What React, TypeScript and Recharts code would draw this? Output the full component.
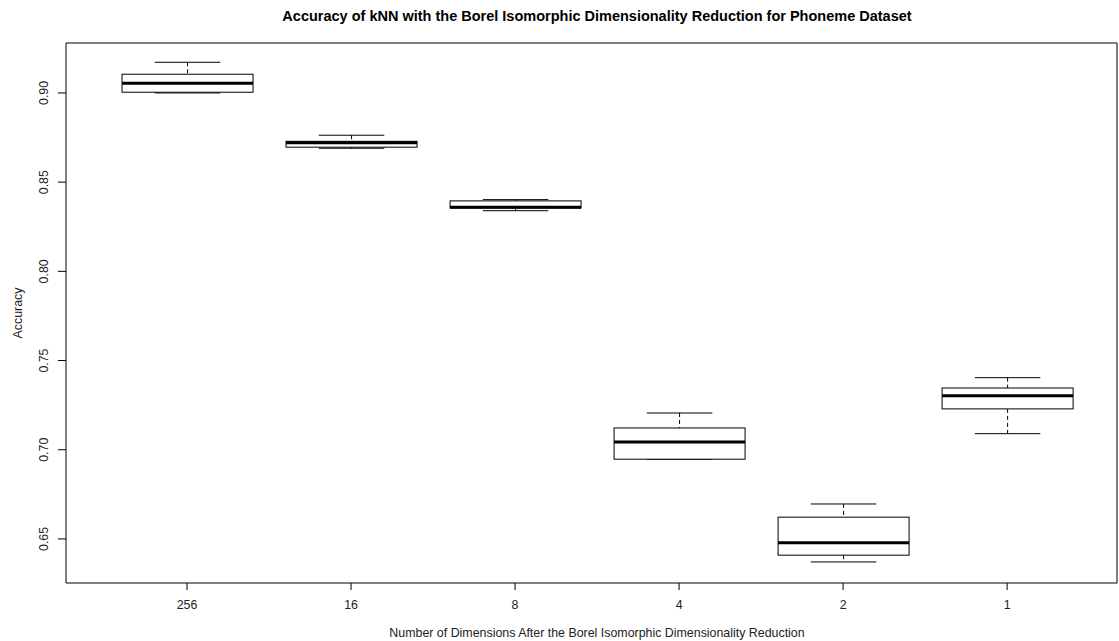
import React from 'react';
import {
    ComposedChart,
    Bar,
    XAxis,
    YAxis,
    ReferenceArea,
} from 'recharts';

// boxplot stats (accuracy per reduced dimension)
const categories = ['256', '16', '8', '4', '2', '1'];
const positions = [1, 2, 3, 4, 5, 6];
const whiskerLow = [0.9, 0.869, 0.834, 0.6947, 0.6371, 0.709];
const q1 = [0.9004, 0.8696, 0.8355, 0.6947, 0.6409, 0.7229];
const median = [0.9054, 0.8721, 0.8359, 0.7044, 0.6478, 0.7302];
const q3 = [0.9105, 0.8729, 0.8395, 0.7122, 0.6622, 0.7346];
const whiskerHigh = [0.9172, 0.8763, 0.8402, 0.7206, 0.6696, 0.7404];
const yTicks = [0.65, 0.7, 0.75, 0.8, 0.85, 0.9];

const data = categories.map((name, i) => ({
    pos: positions[i],
    name,
    range: [whiskerLow[i], whiskerHigh[i]],
    lo: whiskerLow[i],
    q1: q1[i],
    med: median[i],
    q3: q3[i],
    hi: whiskerHigh[i],
}));

const FONT = 'Liberation Sans, Arial, sans-serif';
const X_DOMAIN: [number, number] = [0.262, 6.67];
const Y_DOMAIN: [number, number] = [0.6253, 0.928];

function BoxShape(props: any) {
    const { x, y, width, height, payload } = props;
    const h = Math.abs(height);
    const top = height < 0 ? y + height : y;
    const k = h / (payload.hi - payload.lo);
    const yOf = (v: number) => top + (payload.hi - v) * k;
    const cx = x + width / 2;
    const capHalf = width / 4;
    const yq3 = yOf(payload.q3);
    const yq1 = yOf(payload.q1);
    const yHi = yOf(payload.hi);
    const yLo = yOf(payload.lo);
    const yMed = yOf(payload.med);
    return (
        <g>
            <line x1={cx} x2={cx} y1={yHi} y2={yq3} stroke="#000" strokeDasharray="4 3" />
            <line x1={cx} x2={cx} y1={yq1} y2={yLo} stroke="#000" strokeDasharray="4 3" />
            <line x1={cx - capHalf} x2={cx + capHalf} y1={yHi} y2={yHi} stroke="#000" />
            <line x1={cx - capHalf} x2={cx + capHalf} y1={yLo} y2={yLo} stroke="#000" />
            <rect x={x} y={yq3} width={width} height={yq1 - yq3} fill="#fff" stroke="#000" />
            <line x1={x} x2={x + width} y1={yMed} y2={yMed} stroke="#000" strokeWidth={3} />
        </g>
    );
}

function YTick(props: any) {
    const { y, payload } = props;
    return (
        <text
            x={48}
            y={y}
            transform={`rotate(-90, 48, ${y})`}
            textAnchor="middle"
            fontSize={12.4}
            fontFamily={FONT}
            fill="#222"
        >
            {payload.value.toFixed(2)}
        </text>
    );
}

function XTick(props: any) {
    const { x, payload } = props;
    return (
        <text x={x} y={609} textAnchor="middle" fontSize={12.4} fontFamily={FONT} fill="#222">
            {categories[payload.value - 1]}
        </text>
    );
}

export default function App() {
    return (
        <div style={{ position: 'absolute', left: 0, top: 0, background: '#fff' }}>
            <ComposedChart
                width={1119}
                height={641}
                data={data}
                margin={{ top: 43, right: 2, left: 26, bottom: 28 }}
            >
                <text x={597} y={21} textAnchor="middle" fontSize={14.5} fontWeight="bold" fontFamily={FONT} fill="#000">
                    Accuracy of kNN with the Borel Isomorphic Dimensionality Reduction for Phoneme Dataset
                </text>
                <text
                    x={22}
                    y={313}
                    transform="rotate(-90, 22, 313)"
                    textAnchor="middle"
                    fontSize={12.4}
                    fontFamily={FONT}
                    fill="#222"
                >
                    Accuracy
                </text>
                <text x={597} y={637} textAnchor="middle" fontSize={12.4} fontFamily={FONT} fill="#222">
                    Number of Dimensions After the Borel Isomorphic Dimensionality Reduction
                </text>
                <XAxis
                    dataKey="pos"
                    type="number"
                    domain={X_DOMAIN}
                    ticks={positions}
                    height={30}
                    axisLine={false}
                    tickLine={{ stroke: '#000' }}
                    tickSize={7}
                    tick={<XTick />}
                    allowDataOverflow
                />
                <YAxis
                    type="number"
                    domain={Y_DOMAIN}
                    ticks={yTicks}
                    width={40}
                    axisLine={false}
                    tickLine={{ stroke: '#000' }}
                    tickSize={8}
                    tick={<YTick />}
                    allowDataOverflow
                />
                <ReferenceArea
                    x1={X_DOMAIN[0]}
                    x2={X_DOMAIN[1]}
                    y1={Y_DOMAIN[0]}
                    y2={Y_DOMAIN[1]}
                    fill="none"
                    stroke="#000"
                    strokeWidth={1}
                />
                <Bar dataKey="range" barSize={131} shape={<BoxShape />} isAnimationActive={false} />
            </ComposedChart>
        </div>
    );
}
